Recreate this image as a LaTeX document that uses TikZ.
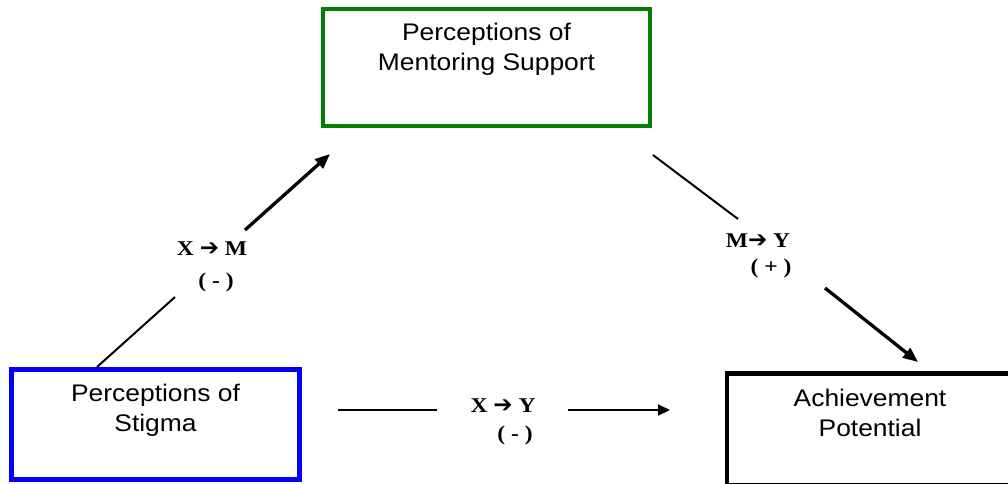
\documentclass[tikz,border=0pt]{standalone}
\usepackage{fontspec}
\setmainfont{Liberation Sans}[FakeStretch=1.1]
\newfontfamily\labelfont{Liberation Serif}[FakeStretch=1.12]
\newfontfamily\arrowfont{DejaVu Sans}
\usetikzlibrary{arrows.meta}
\definecolor{boxgreen}{RGB}{0,128,0}
\definecolor{boxblue}{RGB}{0,0,255}
\tikzset{
  varbox/.style={draw, line width=4.8pt, rectangle, inner sep=0pt},
  boxtext/.style={font=\fontsize{24}{30}\selectfont, align=center, inner sep=0pt},
  pathlabel/.style={font=\labelfont\bfseries\fontsize{21}{24}\selectfont, inner sep=0pt},
  thinseg/.style={line width=2pt},
  thickseg/.style={line width=3.3pt, -{Triangle[length=15pt,width=12pt]}},
  hseg/.style={line width=2pt},
  harrow/.style={line width=2pt, -{Triangle[length=12pt,width=11pt]}}
}
\newcommand{\bigarrow}{{\arrowfont\bfseries\fontsize{23}{24}\selectfont ➔}}
\begin{document}
\begin{tikzpicture}[x=1pt,y=-1pt]
  \useasboundingbox (0,0) rectangle (1008,483);
  \clip (0,0) rectangle (1008,483);

  % variable boxes
  \node[varbox, draw=boxgreen, minimum width=327pt, minimum height=117pt] (med) at (486.5,67.5) {};
  \node[varbox, draw=boxblue, minimum width=288pt, minimum height=110pt] (ind) at (155.5,424.5) {};
  \node[varbox, draw=black, minimum width=286pt, minimum height=112pt] (dep) at (870,429.5) {};

  % box captions
  \node[boxtext] (medtext) at (486.5,49) {Perceptions of\\Mentoring Support};
  \node[boxtext] (indtext) at (155.5,410) {Perceptions of\\Stigma};
  \node[boxtext] (deptext) at (870,413) {Achievement\\Potential};

  % path labels
  \node[pathlabel] (xm) at (212,249) {X \bigarrow\ M};
  \node[pathlabel] (xmsign) at (216,282) {( - )};
  \node[pathlabel] (my) at (758,241) {M\bigarrow\ Y};
  \node[pathlabel] (mysign) at (771,268) {( + )};
  \node[pathlabel] (xy) at (503,406) {X \bigarrow\ Y};
  \node[pathlabel] (xysign) at (515,435) {( - )};

  % connector end points
  \coordinate (a1) at (97,367);
  \coordinate (a2) at (175,297);
  \coordinate (a3) at (245,230);
  \coordinate (a4) at (330,154);
  \coordinate (b1) at (653,155);
  \coordinate (b2) at (738,219);
  \coordinate (b3) at (825,288);
  \coordinate (b4) at (918,362);
  \coordinate (c1) at (338,410);
  \coordinate (c2) at (437,410);
  \coordinate (c3) at (568,410);
  \coordinate (c4) at (670,410);

  % X -> M
  \draw[thinseg] (a1) -- (a2);
  \draw[thickseg] (a3) -- (a4);
  % M -> Y
  \draw[thinseg] (b1) -- (b2);
  \draw[thickseg] (b3) -- (b4);
  % X -> Y
  \draw[hseg] (c1) -- (c2);
  \draw[harrow] (c3) -- (c4);
\end{tikzpicture}
\end{document}
